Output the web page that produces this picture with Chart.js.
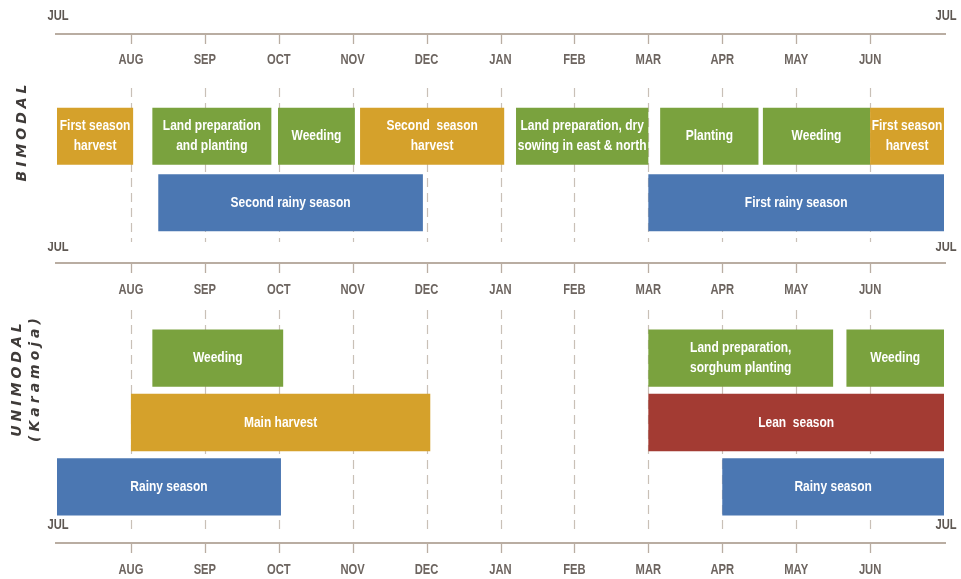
<!doctype html>
<html lang="en">
<head>
<meta charset="utf-8"/>
<title>Seasonal calendar</title>
<script src="https://cdn.jsdelivr.net/npm/chart.js@4.4.0/dist/chart.umd.min.js"></script>
<style>
  body{margin:0;background:#fff;width:961px;height:579px;overflow:hidden;position:relative}
  .pane{position:absolute;left:0;width:961px}
</style>
</head>
<body>
<div class="pane" style="top:0"><canvas id="bi" width="961" height="242"></canvas></div>
<div class="pane" style="top:242px"><canvas id="uni" width="961" height="337"></canvas></div>

<script>
  // months from JUL to JUL, value 0..12
  const months = ['JUL','AUG','SEP','OCT','NOV','DEC','JAN','FEB','MAR','APR','MAY','JUN','JUL'];

  // bimodal
  const biRows   = ['activities', 'rains'];
  const biLabels = ['First season\nharvest', 'Land preparation\nand planting', 'Weeding', 'Second  season\nharvest',
                    'Land preparation, dry\nsowing in east & north', 'Planting', 'Weeding', 'First season\nharvest',
                    'Second rainy season', 'First rainy season'];
  const biStart  = [0,    1.29, 2.99, 4.10, 6.21, 8.16, 9.55, 11.0, 1.37, 8.0];
  const biEnd    = [1.03, 2.90, 4.03, 6.05, 8.0,  9.49, 11.0, 12,   4.95, 12];
  const biRow    = [0, 0, 0, 0, 0, 0, 0, 0, 1, 1];
  const biKind   = ['harvest','work','work','harvest','work','work','work','harvest','rain','rain'];

  // unimodal (Karamoja)
  const uniRows   = ['activities', 'food', 'rains'];
  const uniLabels = ['Weeding', 'Land preparation,\nsorghum planting', 'Weeding', 'Main harvest', 'Lean  season',
                     'Rainy season', 'Rainy season'];
  const uniStart  = [1.29, 8.0,  10.68, 1.0,  8.0, 0,    9.0];
  const uniEnd    = [3.06, 10.5, 12,    5.05, 12,  3.03, 12];
  const uniRow    = [0, 0, 0, 1, 1, 2, 2];
  const uniKind   = ['work','work','work','harvest','lean','rain','rain'];

  const colors = { harvest:'#d5a12b', work:'#7aa23e', rain:'#4b77b2', lean:'#a33b33' };
  const AXIS = '#b9ada2', GRID = '#c9c0b7', TXT = '#6d6560';

  // narrow text: squeeze Liberation Sans horizontally
  function narrowText(ctx, s, x, y, sq) {
    ctx.save(); ctx.translate(x, y); ctx.scale(sq, 1); ctx.fillText(s, 0, 0); ctx.restore();
  }

  const calendar = {
    id: 'calendar',
    beforeDatasetsDraw(chart, args, o) {
      const ctx = chart.ctx, x = chart.scales.x;
      ctx.save();
      // dashed month lines
      ctx.strokeStyle = GRID; ctx.lineWidth = 1.2; ctx.setLineDash([9, 6]);
      for (let m = 1; m < 12; m++) {
        const px = Math.round(x.getPixelForValue(m)) + 0.5;
        ctx.beginPath(); ctx.moveTo(px, o.grid[0]); ctx.lineTo(px, o.grid[1]); ctx.stroke();
      }
      ctx.setLineDash([]);
      // axes
      o.axes.forEach(a => {
        ctx.strokeStyle = AXIS; ctx.lineWidth = 2;
        ctx.beginPath(); ctx.moveTo(x.left - 2, a.line); ctx.lineTo(x.right + 2, a.line); ctx.stroke();
        ctx.lineWidth = 1.3;
        for (let m = 1; m < 12; m++) {
          const px = Math.round(x.getPixelForValue(m)) + 0.5;
          ctx.beginPath(); ctx.moveTo(px, a.line); ctx.lineTo(px, a.line + 10); ctx.stroke();
        }
        ctx.fillStyle = TXT; ctx.font = 'bold 14px "Liberation Sans",Arial,sans-serif';
        ctx.textAlign = 'center'; ctx.textBaseline = 'middle';
        for (let m = 1; m < 12; m++) narrowText(ctx, months[m], x.getPixelForValue(m), a.label, 0.8);
        ctx.fillStyle = '#5e5752';
        narrowText(ctx, months[0], x.getPixelForValue(0) + 1, a.jul, 0.8);
        narrowText(ctx, months[12], x.getPixelForValue(12) + 2, a.jul, 0.8);
      });
      // side titles
      ctx.fillStyle = '#3f3b39'; ctx.font = 'italic bold 14px "DejaVu Sans",sans-serif';
      ctx.textAlign = 'center'; ctx.textBaseline = 'middle';
      ctx.letterSpacing = '4px';
      o.titles.forEach(t => {
        ctx.save(); ctx.translate(t.x, t.y); ctx.rotate(-Math.PI / 2);
        ctx.fillText(t.text, 2, 0); ctx.restore();
      });
      ctx.restore();
    },
    afterDatasetsDraw(chart, args, o) {
      const ctx = chart.ctx;
      ctx.save();
      ctx.fillStyle = '#fff'; ctx.font = 'bold 15px "Liberation Sans",Arial,sans-serif';
      ctx.textAlign = 'center'; ctx.textBaseline = 'middle';
      chart.getDatasetMeta(0).data.forEach((el, i) => {
        const lines = o.labels[i].split('\n');
        const cx = (el.x + el.base) / 2;
        lines.forEach((ln, k) => narrowText(ctx, ln, cx, el.y + (k - (lines.length - 1) / 2) * 20, 0.8));
      });
      ctx.restore();
    }
  };

  function makeChart(id, rows, start, end, row, kind, labels, pad, barPct, opts) {
    return new Chart(document.getElementById(id), {
      type: 'bar',
      data: {
        labels: rows,
        datasets: [{
          data: start.map((s, i) => ({ x: [s, end[i]], y: rows[row[i]] })),
          backgroundColor: kind.map(k => colors[k]),
          borderWidth: 0, borderSkipped: false,
          barPercentage: barPct, categoryPercentage: 1
        }]
      },
      options: {
        indexAxis: 'y', responsive: false, animation: false,
        layout: { padding: pad },
        scales: {
          x: { type: 'linear', min: 0, max: 12, display: false },
          y: { type: 'category', labels: rows, display: false }
        },
        plugins: { legend: { display: false }, tooltip: { enabled: false },
                   calendar: Object.assign({ labels }, opts) }
      },
      plugins: [calendar]
    });
  }

  makeChart('bi', biRows, biStart, biEnd, biRow, biKind, biLabels,
    { left: 57, right: 17, top: 103, bottom: 6 }, 0.86,
    { grid: [88, 242],
      axes: [{ line: 34, label: 60, jul: 16 }],
      titles: [{ text: 'BIMODAL', x: 22, y: 133 }] });

  makeChart('uni', uniRows, uniStart, uniEnd, uniRow, uniKind, uniLabels,
    { left: 57, right: 17, top: 84, bottom: 60 }, 0.89,
    { grid: [68, 293],
      axes: [{ line: 21, label: 48, jul: 5 }, { line: 301, label: 328, jul: 283 }],
      titles: [{ text: 'UNIMODAL', x: 17, y: 138 }, { text: '(Karamoja)', x: 35, y: 138 }] });
</script>
</body>
</html>
